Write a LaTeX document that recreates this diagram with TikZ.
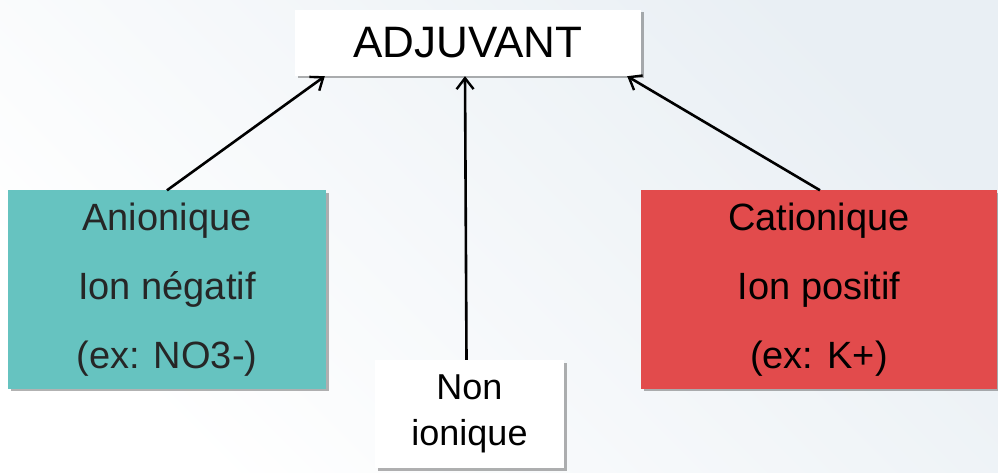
\documentclass[tikz,border=0pt]{standalone}
\usepackage{fontspec}
\setmainfont{Liberation Sans}
\usetikzlibrary{shadows,arrows.meta}
\definecolor{teal1}{HTML}{66C3C0}
\definecolor{red1}{HTML}{E24B4C}
\definecolor{bgend}{HTML}{E9EFF4}
\begin{document}
\begin{tikzpicture}[x=1pt,y=-1pt,
  box/.style={draw=none, drop shadow={shadow xshift=2.5pt, shadow yshift=-2.5pt, fill=black, opacity=0.3}, inner sep=0pt, align=center, font=\fontsize{38}{69}\selectfont},
  conn/.style={-{Straight Barb[length=11pt,width=17pt,line width=2.4pt]}, line width=2.6pt, black}]
  \shade[left color=white, right color=bgend, shading angle=135] (0,0) rectangle (998,473);
  \useasboundingbox (0,0) rectangle (998,473);
  \node[box, fill=white, minimum width=346, minimum height=66, font=\fontsize{44}{50}\selectfont] (adj) at (468,43) {ADJUVANT};
  \node[box, fill=teal1, minimum width=318, minimum height=198, text=black!85] (an) at (167,289.5) {Anionique\\Ion négatif\\(ex: NO3-)};
  \node[box, fill=red1, minimum width=356, minimum height=198] (cat) at (819,289.5) {Cationique\\Ion positif\\(ex: K+)};
  \node[box, fill=white, minimum width=189, minimum height=108, font=\fontsize{36}{46}\selectfont] (non) at (469.5,414) {Non\\ionique};
  \draw[conn] (an.north) -- ([xshift=30pt]adj.south west);
  \draw[conn] ([xshift=-3pt]non.north) -- ([xshift=-3pt]adj.south);
  \draw[conn] ([xshift=1pt]cat.north) -- ([xshift=-14pt]adj.south east);
\end{tikzpicture}
\end{document}
